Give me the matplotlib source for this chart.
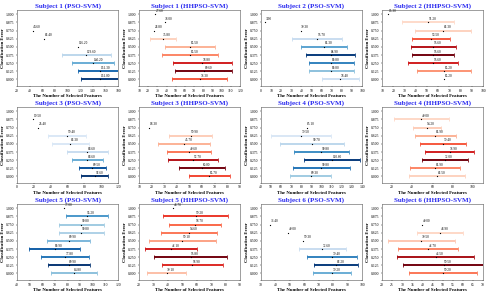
import matplotlib
matplotlib.use("Agg")
import matplotlib.pyplot as plt
from matplotlib.ticker import MultipleLocator, FormatStrFormatter

plt.rcParams['font.family'] = ['Liberation Serif', 'DejaVu Serif']

titles = ["Subject 1 (PSO-SVM)", "Subject 1 (HHPSO-SVM)",
          "Subject 2 (PSO-SVM)", "Subject 2 (HHPSO-SVM)",
          "Subject 3 (PSO-SVM)", "Subject 3 (HHPSO-SVM)",
          "Subject 4 (PSO-SVM)", "Subject 4 (HHPSO-SVM)",
          "Subject 5 (PSO-SVM)", "Subject 5 (HHPSO-SVM)",
          "Subject 6 (PSO-SVM)", "Subject 6 (HHPSO-SVM)"]

# classification error levels reached in each panel
errors = [
    [0.75, 0.625, 0.5, 0.375, 0.25, 0.125, 0.0],
    [1.0, 0.875, 0.75, 0.625, 0.5, 0.375, 0.25, 0.125, 0.0],
    [0.875, 0.75, 0.625, 0.5, 0.375, 0.25, 0.125, 0.0],
    [1.0, 0.875, 0.75, 0.625, 0.5, 0.375, 0.25, 0.125, 0.0],
    [0.875, 0.75, 0.625, 0.5, 0.375, 0.25, 0.125, 0.0],
    [0.75, 0.625, 0.5, 0.375, 0.25, 0.125, 0.0],
    [0.75, 0.625, 0.5, 0.375, 0.25, 0.125, 0.0],
    [0.875, 0.75, 0.625, 0.5, 0.375, 0.25, 0.125, 0.0],
    [1.0, 0.875, 0.75, 0.625, 0.5, 0.375, 0.25, 0.125, 0.0],
    [1.0, 0.875, 0.75, 0.625, 0.5, 0.375, 0.25, 0.125, 0.0],
    [0.75, 0.625, 0.5, 0.375, 0.25, 0.125, 0.0],
    [0.75, 0.625, 0.5, 0.375, 0.25, 0.125, 0.0],
]

# mean number of selected features
means = [
    [44.60, 63.40, 116.20, 129.60, 140.20, 151.30, 151.00],
    [27.60, 38.00, 26.80, 35.80, 65.50, 65.50, 78.80, 80.60, 76.30],
    [3.90, 39.30, 55.70, 62.30, 68.90, 69.80, 69.80, 78.40],
    [15.30, 51.20, 64.30, 53.50, 55.60, 55.60, 55.60, 65.20, 65.20],
    [19.50, 25.40, 59.40, 63.30, 83.60, 83.60, 89.50, 92.60],
    [18.30, 50.90, 45.70, 49.60, 52.70, 60.00, 65.70],
    [85.10, 79.50, 90.70, 99.80, 110.60, 99.80, 89.30],
    [49.00, 54.20, 62.90, 70.40, 76.90, 72.00, 62.90, 64.50],
    [77.00, 95.20, 90.80, 90.80, 80.90, 69.90, 77.80, 80.90, 84.80],
    [43.70, 59.20, 58.70, 54.60, 50.10, 42.10, 55.80, 56.90, 39.10],
    [36.40, 49.00, 59.30, 72.60, 79.40, 82.20, 79.20],
    [40.00, 48.90, 39.50, 42.70, 46.50, 50.50, 50.20],
]

# standard deviation of selected features
stds = [
    [0, 0, 0, 39.0, 33.0, 35.0, 30.0],
    [0, 0, 0, 14.0, 27.0, 30.0, 32.0, 31.0, 30.0],
    [0, 0, 24.6, 23.0, 24.0, 22.6, 21.8, 18.4],
    [0, 23.0, 25.0, 17.0, 20.0, 19.0, 22.0, 24.0, 0],
    [0, 0, 22.0, 22.0, 24.0, 18.0, 16.0, 16.0],
    [0, 16.9, 20.6, 17.2, 19.8, 18.2, 16.1],
    [0, 29.4, 31.9, 27.5, 27.8, 28.6, 20.4],
    [27.6, 13.8, 20.3, 23.2, 24.0, 22.7, 24.7, 27.6],
    [0, 16.5, 17.8, 17.8, 16.9, 20.2, 18.9, 16.7, 18.2],
    [0, 22.3, 17.9, 19.4, 23.0, 18.2, 25.1, 21.1, 13.6],
    [0, 0, 0, 16.1, 17.4, 15.2, 13.5],
    [0, 11.4, 16.4, 15.0, 19.1, 19.9, 16.8],
]

# relative run frequency (drives colour intensity)
shades = [
    [0, 0, 0, 0.2, 0.45, 0.75, 0.95],
    [0, 0, 0, 0.08, 0.2, 0.35, 0.7, 0.97, 0.5],
    [0, 0, 0.15, 0.5, 0.95, 0.65, 0.35, 0.12],
    [0, 0.05, 0.08, 0.5, 0.8, 0.97, 0.7, 0.3, 0],
    [0, 0, 0.05, 0.05, 0.15, 0.45, 0.85, 0.97],
    [0, 0.1, 0.2, 0.4, 0.8, 0.97, 0.55],
    [0, 0.06, 0.2, 0.6, 0.95, 0.7, 0.3],
    [0.06, 0.1, 0.2, 0.5, 0.7, 0.97, 0.35, 0.08],
    [0, 0.55, 0.3, 0.25, 0.4, 0.8, 0.7, 0.97, 0.35],
    [0, 0.6, 0.45, 0.4, 0.25, 0.7, 0.97, 0.65, 0.15],
    [0, 0, 0, 0.15, 0.65, 0.95, 0.45],
    [0, 0.06, 0.12, 0.35, 0.85, 0.97, 0.4],
]

xlims = [(20, 180), (10, 120), (0, 100), (10, 100), (0, 120), (10, 90),
         (40, 140), (10, 110), (40, 120), (20, 90), (30, 100), (20, 70)]
xsteps = [20, 10, 10, 10, 20, 10, 10, 20, 10, 10, 10, 5]

fig = plt.figure(figsize=(4.9, 2.94), dpi=100)
W, H = 490.0, 294.0
col_left = [17, 139, 261, 382]
row_top = [10, 107, 204]
aw, ah = 101, 76

for k in range(12):
    r, c = divmod(k, 4)
    ax = fig.add_axes([col_left[c] / W, 1 - (row_top[r] + ah) / H, aw / W, ah / H])
    cmap = plt.get_cmap('Blues' if c % 2 == 0 else 'Reds')
    for y, m, s, sh in zip(errors[k], means[k], stds[k], shades[k]):
        if s > 0:
            ax.errorbar(m, y, xerr=s, fmt='none', ecolor=cmap(0.1 + 0.9 * sh),
                        elinewidth=1.4, capsize=1.3, capthick=0.6)
        ax.plot(m, y, 'o', color='black', ms=0.9, mew=0)
        ax.annotate(f"{m:.2f}", (m, y), xytext=(0.4, 1.0), textcoords='offset points',
                    fontsize=2.4, ha='left', va='bottom')
    ax.set_xlim(*xlims[k])
    ax.set_ylim(-0.1, 1.065)
    ax.xaxis.set_major_locator(MultipleLocator(xsteps[k]))
    ax.set_yticks([0, 0.125, 0.25, 0.375, 0.5, 0.625, 0.75, 0.875, 1.0])
    ax.yaxis.set_major_formatter(FormatStrFormatter('%.3f'))
    ax.tick_params(labelsize=2.7, length=1, width=0.3, pad=0.8)
    for sp in ax.spines.values():
        sp.set_linewidth(0.4)
        sp.set_color('#555555')
    ax.set_title(titles[k], fontsize=5, fontweight='bold', color='#2a2af0', pad=2)
    ax.set_xlabel("The Number of Selected Features", fontsize=3.5, fontweight='bold', labelpad=0.8)
    ax.set_ylabel("Classification Error", fontsize=3.3, fontweight='bold', labelpad=0.8)

fig.savefig("out.png", dpi=100)
